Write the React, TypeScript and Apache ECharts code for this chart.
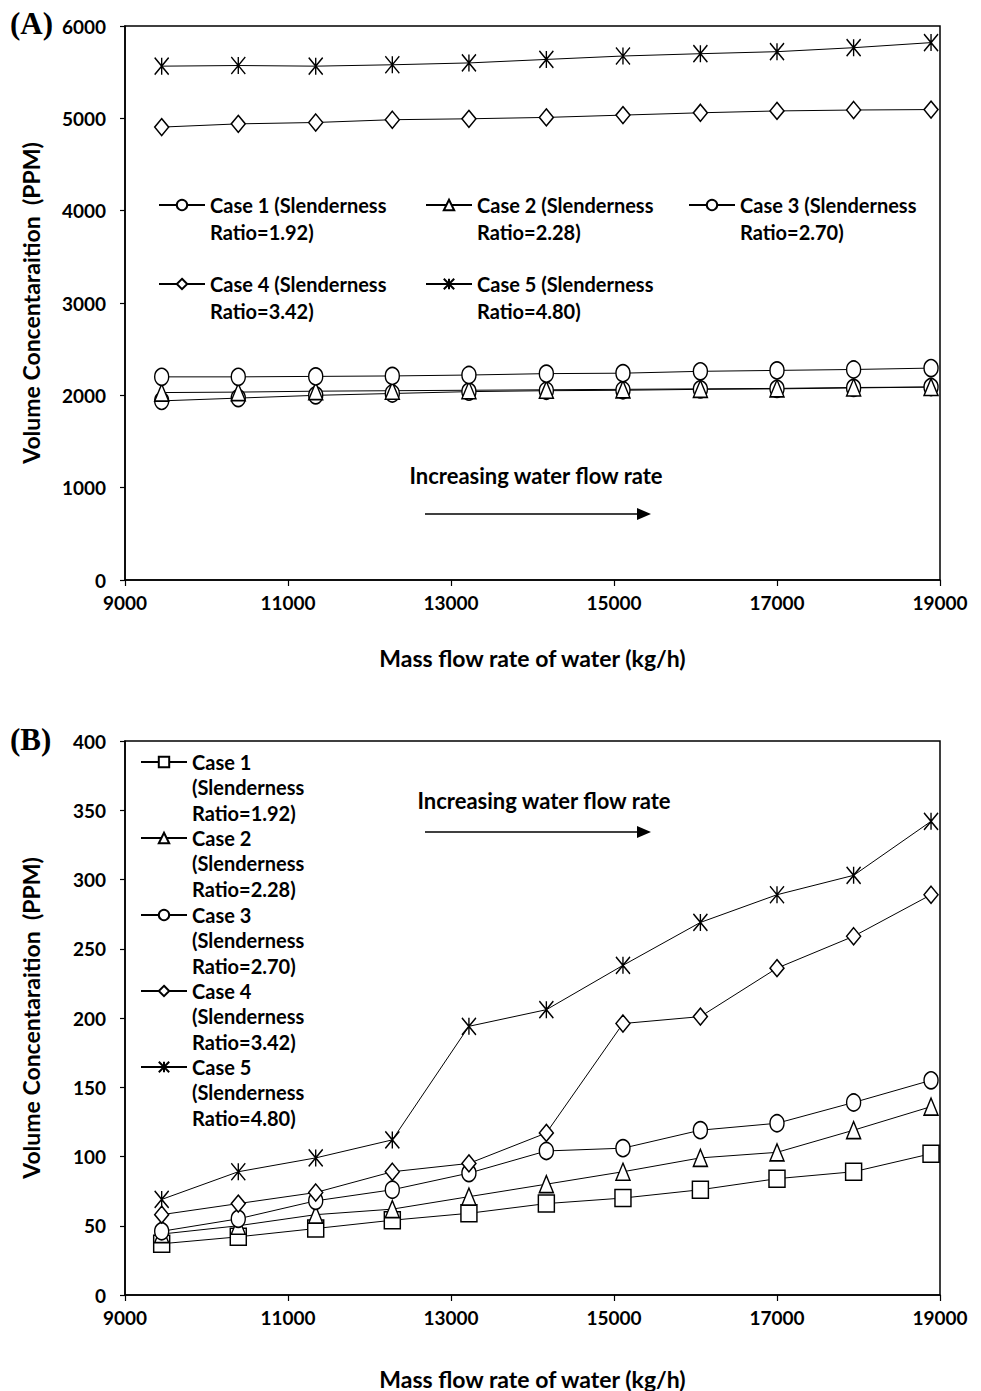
import React, { useEffect, useRef } from "react";
import * as echarts from "echarts";

// Mass flow rate of water (kg/h) at each measurement
const xFlow = [9450, 10390, 11340, 12280, 13220, 14170, 15110, 16060, 17000, 17940, 18890];

// Panel (A) volume concentration (PPM)
const caseA1 = [1940, 1970, 2000, 2020, 2040, 2050, 2055, 2065, 2070, 2080, 2090];
const caseA2 = [2030, 2035, 2045, 2050, 2055, 2060, 2065, 2070, 2075, 2085, 2090];
const caseA3 = [2200, 2200, 2205, 2210, 2220, 2235, 2240, 2260, 2270, 2280, 2295];
const caseA4 = [4905, 4940, 4955, 4985, 4995, 5010, 5035, 5060, 5080, 5090, 5095];
const caseA5 = [5565, 5572, 5565, 5580, 5600, 5638, 5675, 5700, 5722, 5765, 5820];

// Panel (B) volume concentration (PPM)
const caseB1 = [37, 42, 48, 54, 59, 66, 70, 76, 84, 89, 102];
const caseB2 = [44, 50, 58, 62, 71, 80, 89, 99, 103, 119, 136];
const caseB3 = [46, 55, 68, 76, 88, 104, 106, 119, 124, 139, 155];
const caseB4 = [58, 66, 74, 89, 95, 117, 196, 201, 236, 259, 289];
const caseB5 = [69, 89, 99, 112, 194, 206, 238, 269, 289, 303, 342];

const ratios = ["1.92", "2.28", "2.70", "3.42", "4.80"];
const namesA = ratios.map((r, i) => `Case ${i + 1} (Slenderness\nRatio=${r})`);
const namesB = ratios.map((r, i) => `Case ${i + 1}\n(Slenderness\nRatio=${r})`);

const FONT = "Lato";
const ASTERISK = "path://M0,0 L10,10 M10,0 L0,10 M5,0 L5,10";

const markerStyle = { color: "#ffffff", borderColor: "#000000", borderWidth: 1.5 };

function pairs(ys: number[]) {
  return xFlow.map((x, i) => [x, ys[i]]);
}

function lineSeries(name: string, ys: number[], symbol: string, idx: number, size: number[]) {
  return {
    type: "line",
    name,
    xAxisIndex: idx,
    yAxisIndex: idx,
    data: pairs(ys),
    symbol,
    symbolSize: size,
    showSymbol: true,
    lineStyle: { color: "#000000", width: 1 },
    itemStyle: markerStyle,
    emphasis: { disabled: true },
    z: 3,
  };
}

// The legend centres its text block on the icon; blank lines in front of the
// label push its first line level with the icon.
function legendAt(name: string, left: number, iconY: number, lineH: number, lines: number) {
  const lead = lines - 1;
  const total = lines + lead;
  return {
    data: [name],
    left,
    top: iconY - (total * lineH) / 2,
    padding: 0,
    itemWidth: 46,
    itemHeight: 13,
    selectedMode: false,
    formatter: (n: string) => "\n".repeat(lead) + n,
    textStyle: {
      fontFamily: FONT,
      fontWeight: "bold",
      fontSize: 20,
      color: "#000",
      lineHeight: lineH,
    },
  };
}

function textStyleOf(size: number) {
  return { fontFamily: FONT, fontWeight: "bold", fontSize: size, color: "#000" };
}

const plain = (v: number) => String(v);

function xAxisFor(idx: number, nameGap: number) {
  return {
    type: "value",
    gridIndex: idx,
    min: 9000,
    max: 19000,
    interval: 2000,
    name: "Mass flow rate of water (kg/h)",
    nameLocation: "middle",
    nameGap,
    nameTextStyle: textStyleOf(23),
    axisLine: { show: true, lineStyle: { color: "#000", width: 1.5 } },
    axisTick: { show: true, inside: false, length: 6, lineStyle: { color: "#000", width: 1.2 } },
    axisLabel: { ...textStyleOf(19), margin: 13, formatter: plain },
    splitLine: { show: false },
  };
}

function yAxisFor(idx: number, max: number, interval: number) {
  return {
    type: "value",
    gridIndex: idx,
    min: 0,
    max,
    interval,
    name: "Volume Concentaraition  (PPM)",
    nameLocation: "middle",
    nameGap: 83,
    nameTextStyle: textStyleOf(23),
    axisLine: { show: true, lineStyle: { color: "#000", width: 1.5 } },
    axisTick: { show: true, inside: false, length: 5, lineStyle: { color: "#000", width: 1.2 } },
    axisLabel: { ...textStyleOf(19), margin: 19, formatter: plain },
    splitLine: { show: false },
  };
}

function arrow(x1: number, x2: number, y: number) {
  return [
    { type: "line", shape: { x1, y1: y, x2: x2 - 12, y2: y }, style: { stroke: "#000", lineWidth: 1.5 } },
    {
      type: "polygon",
      shape: { points: [[x2 - 14, y - 6], [x2, y], [x2 - 14, y + 6]] },
      style: { fill: "#000" },
    },
  ];
}

function caption(x: number, y: number) {
  return {
    type: "text",
    x,
    y,
    style: {
      text: "Increasing water flow rate",
      font: `bold 22px ${FONT}`,
      fill: "#000",
      align: "center",
      verticalAlign: "middle",
    },
  };
}

export default function App() {
  const ref = useRef<HTMLDivElement>(null);

  useEffect(() => {
    if (!ref.current) return;
    const chart = echarts.init(ref.current, null, { renderer: "svg" });

    const symsA = ["circle", "triangle", "circle", "diamond", ASTERISK];
    const symsB = ["rect", "triangle", "circle", "diamond", ASTERISK];
    const dataA = [caseA1, caseA2, caseA3, caseA4, caseA5];
    const dataB = [caseB1, caseB2, caseB3, caseB4, caseB5];

    const seriesA = dataA.map((ys, i) => lineSeries(namesA[i], ys, symsA[i], 0, [14, 17]));
    const seriesB = dataB.map((ys, i) => lineSeries(namesB[i], ys, symsB[i], 1, i === 0 ? [16, 17] : [14, 17]));

    // Legend placement for (A): three columns, two rows; (B): single column
    const colA = [158, 425, 688];
    const rowA = [205, 284];
    const legendsA = namesA.map((n, i) => legendAt(n, colA[i % 3], rowA[Math.floor(i / 3)], 27, 2));
    const rowB = [762, 838, 915, 991, 1067];
    const legendsB = namesB.map((n, i) => legendAt(n, 140, rowB[i], 25.4, 3));

    chart.setOption({
      animation: false,
      backgroundColor: "#ffffff",
      grid: [
        { left: 125, top: 26, width: 815, height: 554, show: true, borderColor: "#000", borderWidth: 1.5 },
        { left: 125, top: 741, width: 815, height: 555, show: true, borderColor: "#000", borderWidth: 1.5 },
      ],
      xAxis: [xAxisFor(0, 66), xAxisFor(1, 72)],
      yAxis: [yAxisFor(0, 6000, 1000), yAxisFor(1, 400, 50)],
      legend: [...legendsA, ...legendsB],
      series: [...seriesA, ...seriesB],
      graphic: [
        {
          type: "text",
          left: 10,
          top: 8,
          style: { text: "(A)", font: "bold 31px 'Liberation Serif'", fill: "#000" },
        },
        {
          type: "text",
          left: 10,
          top: 724,
          style: { text: "(B)", font: "bold 31px 'Liberation Serif'", fill: "#000" },
        },
        caption(536, 475),
        caption(544, 800),
        ...arrow(425, 651, 514),
        ...arrow(425, 651, 832),
      ],
    });

    return () => chart.dispose();
  }, []);

  return (
    <div
      ref={ref}
      style={{ position: "absolute", left: 0, top: 0, width: 981, height: 1391, background: "#fff" }}
    />
  );
}
